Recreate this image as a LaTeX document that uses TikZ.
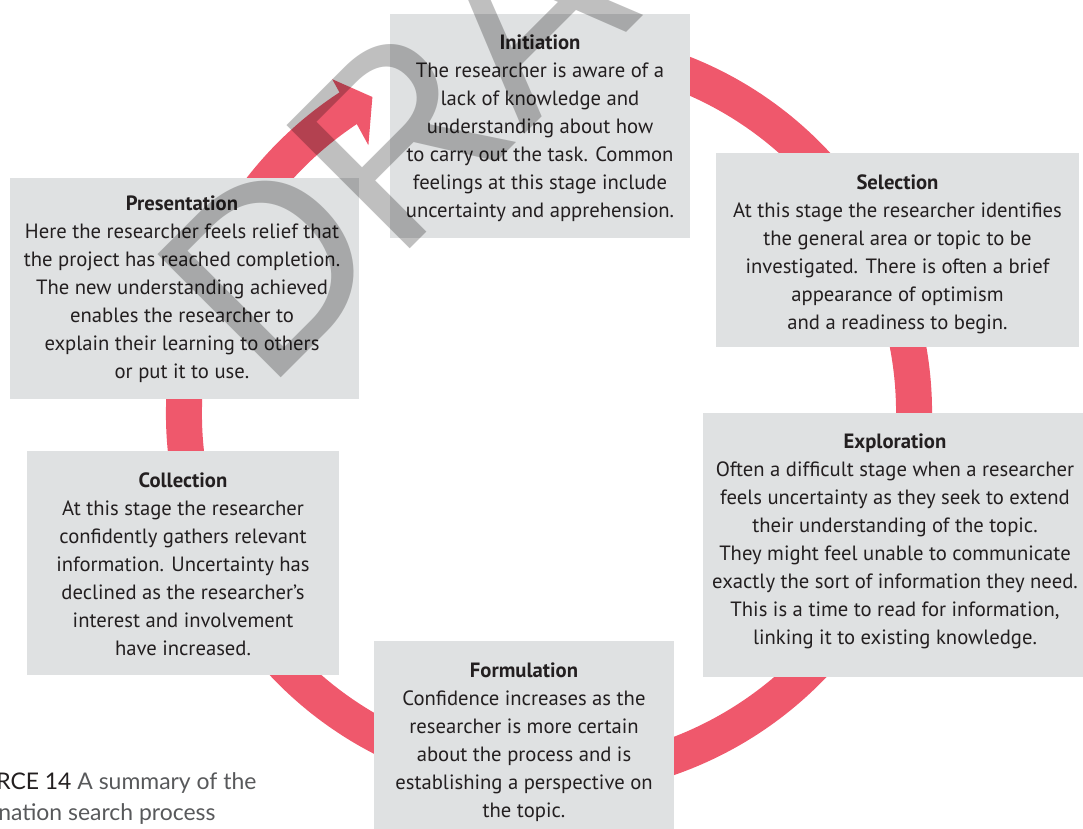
\documentclass[tikz,border=0pt]{standalone}
\usepackage{fontspec}
\setmainfont{PT Sans}
\newfontfamily\capfont{Lato}
\newfontfamily\wmfont{Liberation Sans}
\definecolor{ringred}{RGB}{239,88,108}
\definecolor{boxgray}{RGB}{223,225,226}
\definecolor{txt}{RGB}{35,31,32}
\definecolor{captgray}{RGB}{88,89,91}
\begin{document}
\begin{tikzpicture}[x=0.75pt,y=0.75pt,
  stagebox/.style={fill=boxgray, inner sep=0pt},
  stagetext/.style={inner sep=0pt, align=center, text=txt,
    font=\fontsize{15.5}{21}\selectfont},
  ringline/.style={draw=ringred, line width=27pt},
  captext/.style={anchor=base west, inner sep=0pt, text=captgray,
    font=\capfont\fontsize{17.2}{23}\selectfont},
  ]
\useasboundingbox (0,0) rectangle (1083,829);
\coordinate (c) at (549,416);
% ring with arrow head
\draw[ringline] ([shift={(80:365)}]c) arc[start angle=80, end angle=-237, radius=365];
\fill[ringred] ([shift={(124:323)}]c) -- ([shift={(119.2:362)}]c) -- ([shift={(123:398)}]c) -- cycle;
% stage boxes
\node[stagebox, minimum width=225pt, minimum height=168pt] (init) at (540,703) {};
\node[stagebox, minimum width=272.25pt, minimum height=145.5pt] (sel) at (897.5,579) {};
\node[stagebox, minimum width=261.75pt, minimum height=165.75pt] (pres) at (184.5,540.5) {};
\node[stagebox, minimum width=285pt, minimum height=198pt] (expl) at (893,284) {};
\node[stagebox, minimum width=234pt, minimum height=168pt] (coll) at (183,266) {};
\node[stagebox, minimum width=225pt, minimum height=141pt] (form) at (524,94) {};
% stage texts
\node[stagetext] (initt) at (540,701)
 {\textbf{Initiation}\\The researcher is aware of a\\lack of knowledge and\\understanding about how\\to carry out the task. Common\\feelings at this stage include\\uncertainty and apprehension.};
\node[stagetext] (selt) at (897.5,575)
 {\textbf{Selection}\\At this stage the researcher identifies\\the general area or topic to be\\investigated. There is often a brief\\appearance of optimism\\and a readiness to begin.};
\node[stagetext] (prest) at (182,540)
 {\textbf{Presentation}\\Here the researcher feels relief that\\the project has reached completion.\\The new understanding achieved\\enables the researcher to\\explain their learning to others\\or put it to use.};
\node[stagetext] (explt) at (895,288)
 {\textbf{Exploration}\\Often a difficult stage when a researcher\\feels uncertainty as they seek to extend\\their understanding of the topic.\\They might feel unable to communicate\\exactly the sort of information they need.\\This is a time to read for information,\\linking it to existing knowledge.};
\node[stagetext] (collt) at (183,265)
 {\textbf{Collection}\\At this stage the researcher\\confidently gathers relevant\\information. Uncertainty has\\declined as the researcher’s\\interest and involvement\\have increased.};
\node[stagetext] (formt) at (524,87)
 {\textbf{Formulation}\\Confidence increases as the\\researcher is more certain\\about the process and is\\establishing a perspective on\\the topic.};
% caption
\node[captext] (cap1) at (-4,39) {{\color{txt}RCE 14} A summary of the};
\node[captext] (cap2) at (-2,8) {nation search process};
% watermark
\node[font=\wmfont\fontsize{190}{190}\selectfont, text=black, opacity=0.25,
  rotate=45, anchor=base west, inner sep=0pt] (wm) at (266,436) {DRAFT};
\end{tikzpicture}
\end{document}
